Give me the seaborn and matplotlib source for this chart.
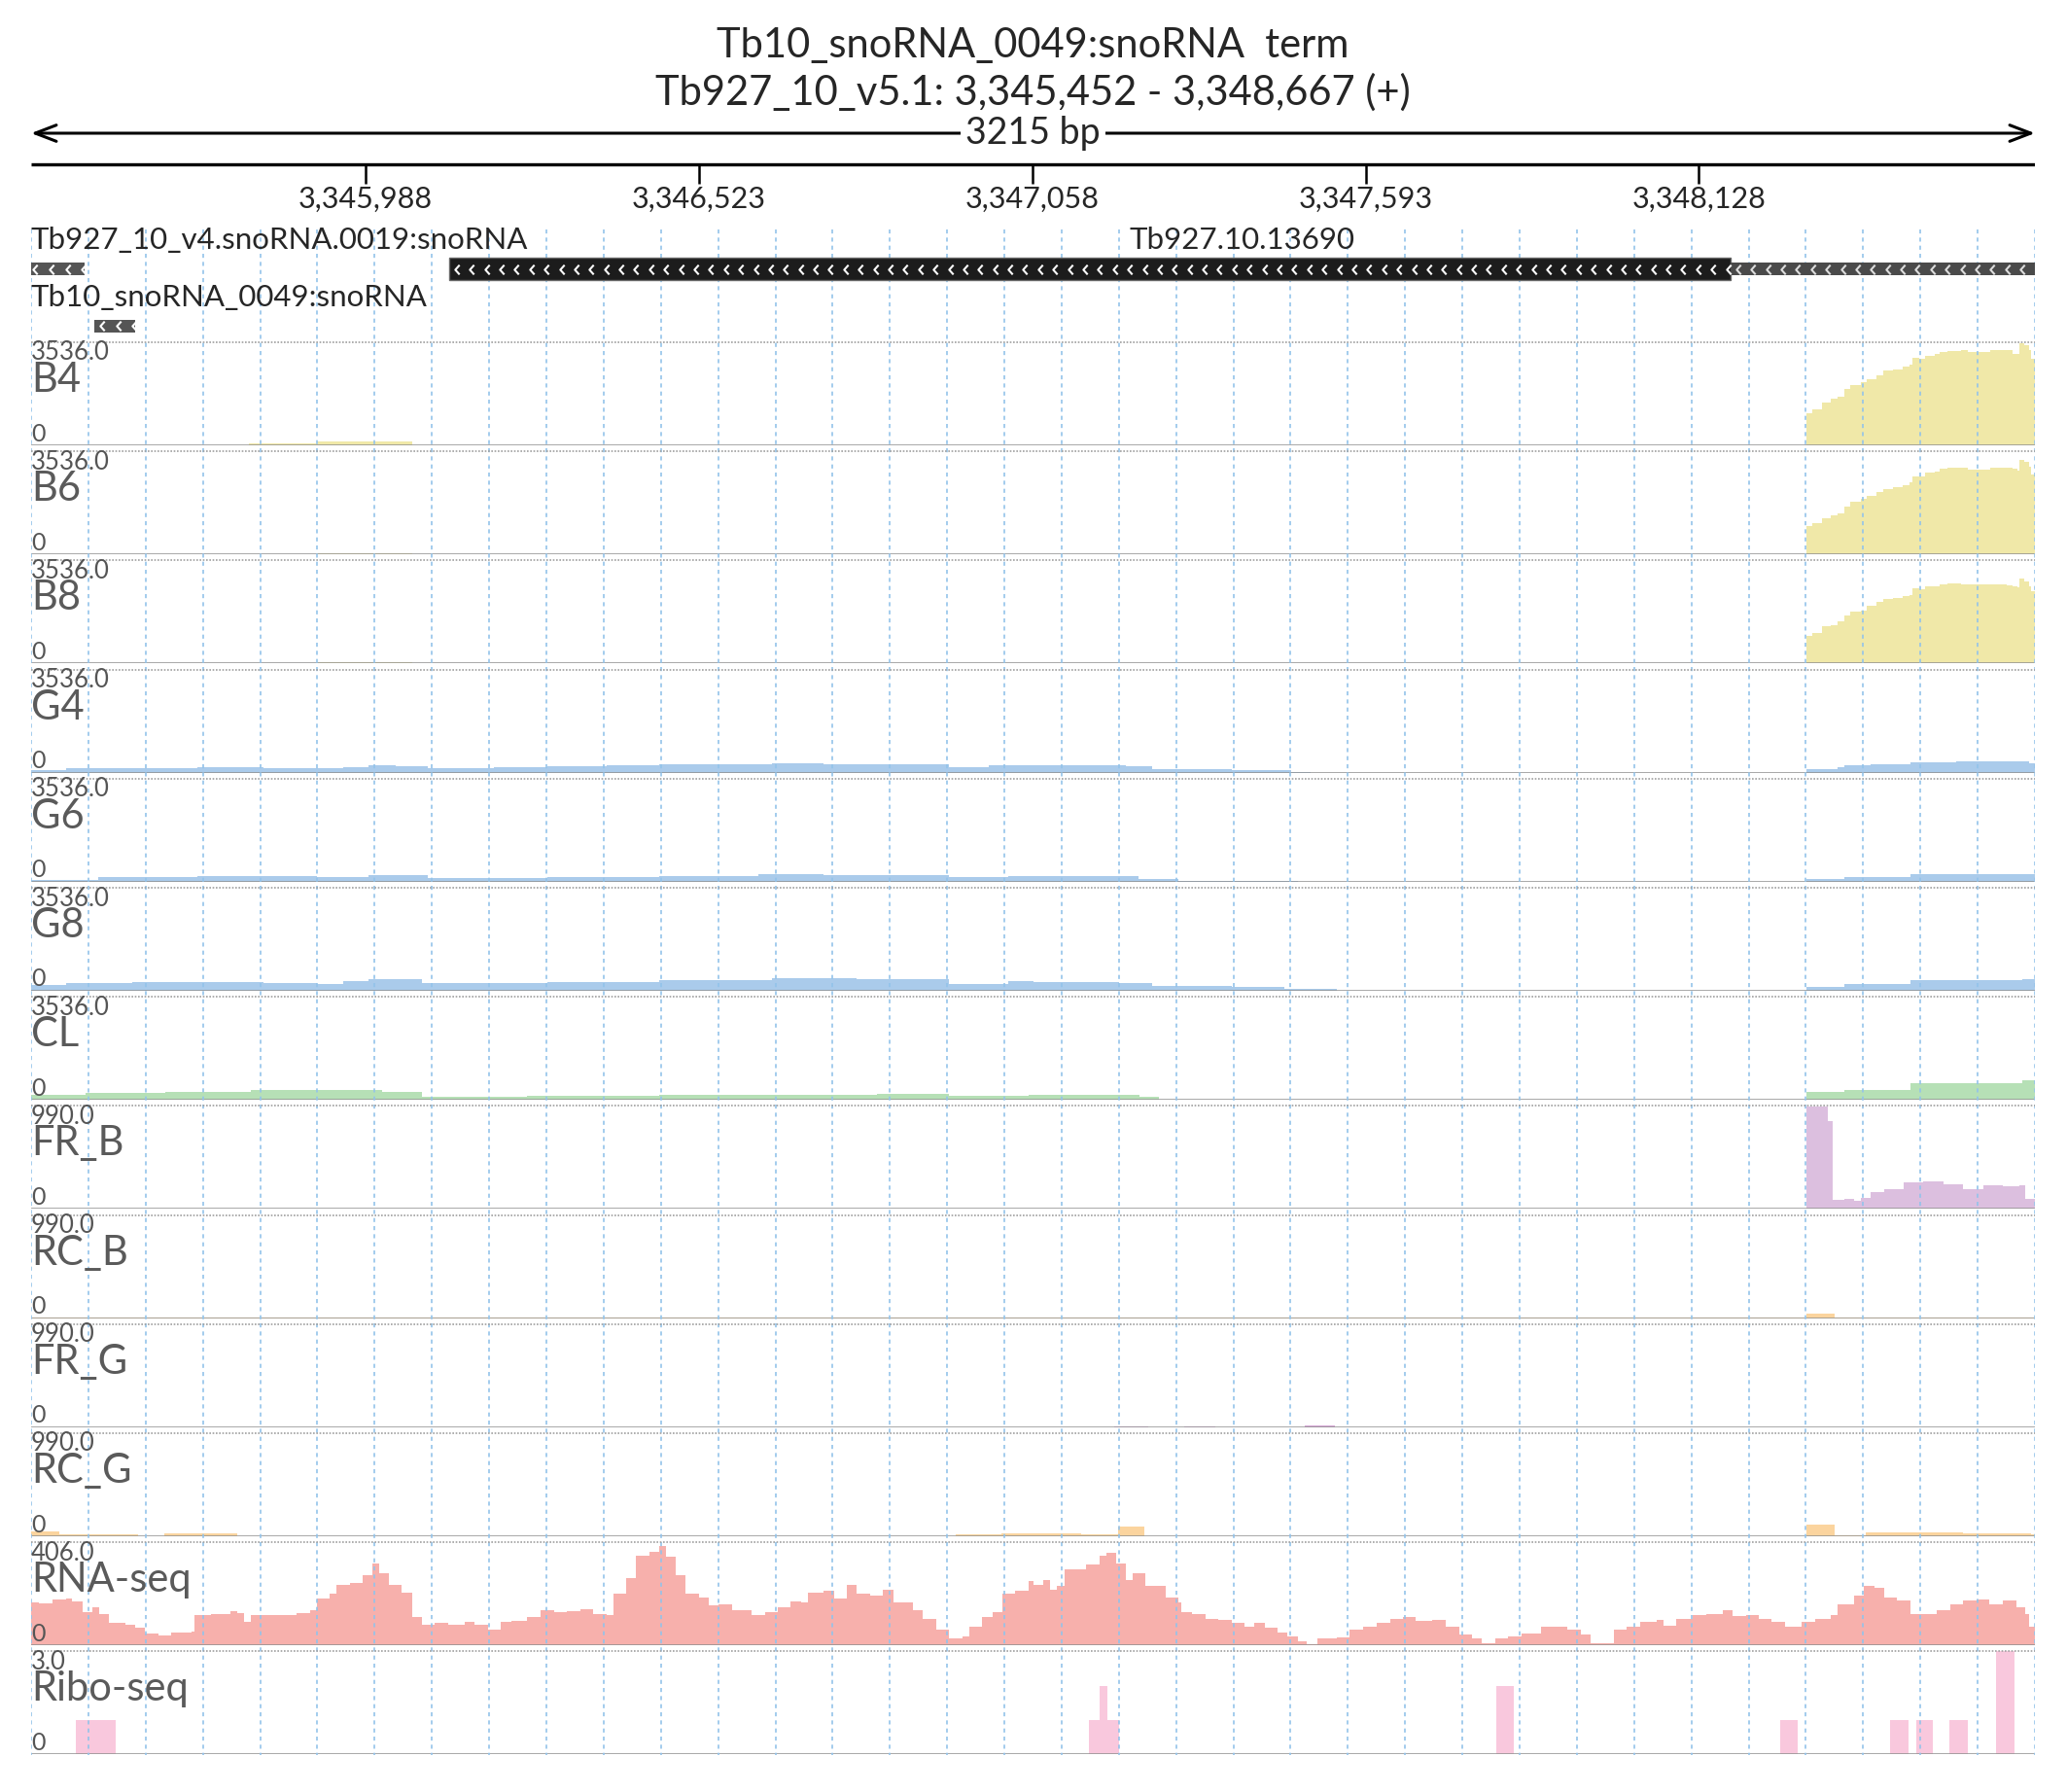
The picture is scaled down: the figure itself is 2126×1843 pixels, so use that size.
import numpy as np
import matplotlib
matplotlib.use("Agg")
import matplotlib.pyplot as plt
from matplotlib.patches import Rectangle
from matplotlib.path import Path
import seaborn as sns

sns.set_theme(style="white")
plt.rcParams['font.family'] = ['Lato', 'DejaVu Sans']

# region shown
CHROM = "Tb927_10_v5.1"
REGION_START = 3345452
REGION_END = 3348667
title_name = "Tb10_snoRNA_0049:snoRNA  term"
ruler_ticks = [3345988, 3346523, 3347058, 3347593, 3348128]

# gene annotation
gene_names = ["Tb927_10_v4.snoRNA.0019:snoRNA", "Tb927.10.13690", "Tb10_snoRNA_0049:snoRNA"]
gene_start = [3345420, 3346123, 3345553]
gene_end = [3345538, 3348900, 3345619]
gene_cds_end = [None, 3348179, None]
gene_row = [0, 0, 1]

# coverage tracks (positions are offsets from REGION_START, values hold until next position)
b_pos = [0, 228, 350, 459, 507, 612, 2846,
         2847, 2848, 2857, 2873, 2888, 2899, 2909, 2919, 2935, 2945,
         2961, 2971, 2987, 3003, 3013, 3018, 3029, 3039, 3055, 3062,
         3075, 3096, 3107, 3143, 3169, 3179, 3187, 3190, 3198, 3205,
         3208, 3215]
b4_val = [10, 15, 70, 130, 120, 10, 0,
          0, 1112, 1223, 1479, 1590, 1668, 1946, 2079, 2168, 2280,
          2391, 2558, 2613, 2702, 2780, 3002, 2969, 3080, 3147, 3191,
          3225, 3258, 3191, 3258, 3258, 3147, 3120, 3503, 3447, 3280,
          2969, 2836]
b6_val = [5, 5, 20, 30, 30, 5, 0,
          0, 967, 1079, 1245, 1357, 1412, 1635, 1824, 1913, 2024,
          2135, 2246, 2302, 2380, 2469, 2691, 2680, 2802, 2858, 2936,
          2969, 2969, 2913, 2969, 2991, 2950, 2891, 3247, 3191, 3025,
          2747, 2635]
b8_val = [5, 10, 30, 50, 45, 5, 0,
          0, 934, 1045, 1268, 1323, 1434, 1657, 1768, 1824, 1968,
          2102, 2213, 2235, 2302, 2346, 2569, 2550, 2635, 2650, 2713,
          2747, 2720, 2700, 2713, 2669, 2635, 2600, 2902, 2825, 2658,
          2491, 2380]

g4_pos = [0, 56, 162, 267, 373, 458, 500, 542, 585, 637,
          743, 828, 923, 1008, 1114, 1188, 1272, 1378, 1473, 1537,
          1600, 1714, 1757, 1799, 1841, 1926, 1979, 2021, 2053, 2846,
          2848, 2899, 2910, 2952, 3015, 3089, 3195, 3206, 3215]
g4_val = [78, 145, 167, 200, 167, 145, 200, 245, 222, 167,
          189, 222, 245, 278, 300, 334, 300, 278, 178, 245,
          256, 245, 211, 133, 111, 100, 78, 22, 0, 0,
          133, 189, 256, 289, 367, 389, 389, 322, 311]
g6_pos = [0, 108, 267, 458, 542, 637, 828, 1008, 1167, 1272,
          1378, 1473, 1568, 1609, 1714, 1777, 1841, 2010, 2032, 2846,
          2848, 2910, 3015, 3195, 3215]
g6_val = [56, 145, 189, 145, 222, 111, 145, 200, 256, 222,
          222, 145, 189, 189, 178, 89, 33, 11, 0, 0,
          89, 167, 245, 256, 222]
g8_pos = [0, 56, 162, 373, 458, 500, 542, 627, 828, 923,
          1008, 1188, 1325, 1473, 1568, 1609, 1746, 1799, 1926, 2010,
          2095, 2846, 2848, 2910, 3015, 3195, 3215]
g8_val = [200, 278, 300, 256, 245, 334, 389, 256, 311, 311,
          367, 445, 389, 245, 334, 311, 278, 167, 133, 78,
          0, 0, 133, 245, 356, 411, 356]
cl_pos = [0, 88, 215, 352, 500, 563, 627, 796, 1008, 1188,
          1357, 1473, 1600, 1609, 1778, 1810, 1820, 2846, 2848, 2910,
          3015, 3195, 3215]
cl_val = [167, 245, 278, 334, 334, 278, 100, 133, 167, 189,
          211, 156, 189, 167, 100, 22, 0, 0, 267, 356,
          578, 689, 600]

frb_pos = [0, 2848, 2872, 2883, 2890, 2909, 2925, 2936, 2952, 2973,
           3005, 3036, 3068, 3100, 3121, 3132, 3163, 3190, 3200]
frb_val = [0, 984, 984, 844, 84, 93, 74, 105, 161, 192,
           254, 261, 239, 186, 186, 230, 217, 230, 93]
rcb_pos = [0, 2848, 2893]
rcb_val = [2, 40, 8]
frg_pos = [0, 1738, 1792, 1850, 1900, 2044, 2092]
frg_val = [2, 9, 2, 5, 2, 19, 2]
rcg_pos = [0, 45, 172, 214, 331, 1484, 1557, 1685, 1744, 1786, 2848, 2894, 2944, 3100, 3208]
rcg_val = [44, 19, 0, 25, 0, 19, 28, 19, 90, 0, 115, 6, 34, 30, 20]

rna_pos = [0, 13, 35, 56, 66, 82, 98, 109, 125, 151,
           167, 183, 204, 225, 257, 262, 288, 320, 331, 341,
           352, 373, 405, 426, 447, 458, 479, 490, 511, 532,
           548, 558, 574, 595, 611, 627, 648, 669, 696, 712,
           733, 754, 770, 796, 817, 839, 860, 881, 902, 923,
           934, 955, 971, 992, 1008, 1018, 1034, 1050, 1071, 1087,
           1103, 1124, 1145, 1156, 1177, 1198, 1219, 1235, 1246, 1272,
           1288, 1309, 1325, 1346, 1367, 1383, 1399, 1415, 1431, 1452,
           1473, 1494, 1505, 1526, 1542, 1558, 1579, 1600, 1609, 1624,
           1635, 1646, 1658, 1677, 1693, 1714, 1725, 1741, 1757, 1767,
           1788, 1804, 1820, 1841, 1846, 1862, 1884, 1905, 1926, 1947,
           1963, 1979, 2000, 2016, 2032, 2047, 2063, 2095, 2116, 2137,
           2159, 2180, 2201, 2222, 2248, 2270, 2291, 2312, 2328, 2349,
           2370, 2391, 2423, 2444, 2465, 2486, 2502, 2523, 2539, 2560,
           2582, 2608, 2619, 2640, 2666, 2687, 2714, 2730, 2751, 2772,
           2793, 2814, 2841, 2862, 2888, 2899, 2925, 2941, 2957, 2973,
           2994, 3015, 3036, 3058, 3079, 3100, 3121, 3142, 3163, 3185,
           3200, 3206]
rna_val = [170, 165, 179, 186, 175, 131, 151, 125, 87, 80,
           68, 46, 38, 51, 55, 119, 125, 134, 128, 93,
           119, 121, 119, 129, 138, 186, 202, 238, 246, 278,
           323, 285, 240, 208, 112, 80, 89, 80, 93, 80,
           61, 93, 97, 112, 138, 131, 134, 144, 125, 119,
           202, 266, 355, 370, 393, 349, 278, 202, 189, 157,
           163, 138, 138, 119, 131, 151, 174, 170, 208, 215,
           183, 240, 202, 195, 221, 170, 170, 138, 106, 61,
           26, 36, 74, 112, 131, 202, 215, 253, 240, 259,
           221, 234, 298, 298, 317, 355, 364, 323, 259, 285,
           234, 234, 189, 170, 131, 125, 106, 100, 87, 74,
           87, 68, 49, 36, 17, 4, 26, 33, 61, 74,
           89, 106, 110, 97, 102, 74, 42, 29, 10, 26,
           36, 46, 74, 74, 61, 42, 10, 10, 61, 74,
           93, 102, 77, 106, 119, 125, 138, 115, 119, 106,
           93, 74, 93, 106, 119, 163, 195, 234, 227, 189,
           176, 125, 125, 138, 163, 176, 179, 161, 176, 151,
           125, 74]

ribo_start = [72, 1697, 1714, 2351, 2807, 2983, 3025, 3078, 3153]
ribo_end = [136, 1746, 1727, 2379, 2835, 3012, 3051, 3108, 3183]
ribo_val = [1, 1, 2, 2, 1, 1, 1, 1, 3]

track_names = ["B4", "B6", "B8", "G4", "G6", "G8", "CL", "FR_B", "RC_B", "FR_G", "RC_G", "RNA-seq", "Ribo-seq"]
track_max = [3536.0] * 7 + [990.0] * 4 + [406.0, 3.0]
track_colors = ["#f0e8a8", "#f0e8a8", "#f0e8a8", "#aacbeb", "#aacbeb", "#aacbeb", "#b6e0b6",
                "#dcbfdf", "#fbd49e", "#d6a9d6", "#fbd49e", "#f7b0ac", "#f9c8dd"]
track_data = {
    "B4": (b_pos, b4_val), "B6": (b_pos, b6_val), "B8": (b_pos, b8_val),
    "G4": (g4_pos, g4_val), "G6": (g6_pos, g6_val), "G8": (g8_pos, g8_val),
    "CL": (cl_pos, cl_val), "FR_B": (frb_pos, frb_val), "RC_B": (rcb_pos, rcb_val),
    "FR_G": (frg_pos, frg_val), "RC_G": (rcg_pos, rcg_val), "RNA-seq": (rna_pos, rna_val),
}

# ---- layout (pixels)
W, H = 2126, 1843
LEFT, RIGHT = 32, 2093
TRACK_TOP, TRACK_STEP, TRACK_H = 352, 112.2, 106

fig = plt.figure(figsize=(W / 100, H / 100), dpi=100)


def px_rect(x0, y0, w, h):
    return [x0 / W, 1 - (y0 + h) / H, w / W, h / H]


ax0 = fig.add_axes(px_rect(LEFT, 0, RIGHT - LEFT, H))
ax0.set_xlim(REGION_START, REGION_END)
ax0.set_ylim(H, 0)
ax0.axis('off')
ax0.set_zorder(10)
mid = (REGION_START + REGION_END) / 2

# header
ax0.text(mid, 47, title_name, ha='center', va='center', fontsize=30)
ax0.text(mid, 95, f"{CHROM}: {REGION_START:,} - {REGION_END:,} (+)", ha='center', va='center', fontsize=30)
ax0.annotate('', xy=(REGION_START, 137), xytext=(REGION_END, 137),
             arrowprops=dict(arrowstyle='<->,head_length=1.3,head_width=0.5', lw=2.2,
                             color='black', shrinkA=0, shrinkB=0, mutation_scale=12))
ax0.text(mid, 137, f"{REGION_END - REGION_START} bp", ha='center', va='center', fontsize=27,
         bbox=dict(fc='white', ec='none', pad=4))
ax0.plot([REGION_START, REGION_END], [169, 169], color='black', lw=2.4, solid_capstyle='butt')
ax0.vlines(ruler_ticks, 169, 189, color='black', lw=1.8)
for t in ruler_ticks:
    ax0.text(t, 205, f"{t:,}", ha='center', va='center', fontsize=22)

# grid
grid_pos = np.linspace(REGION_START, REGION_END, 36)
ax0.vlines(grid_pos, 236, 1805, colors='#93c3ea', linestyles=(0, (2.5, 2.5)), lw=1.2)

# genes
CHEVRON = Path([(0.45, 1.0), (-0.45, 0.0), (0.45, -1.0)], [Path.MOVETO, Path.LINETO, Path.LINETO])
row_y = [276.5, 335]


def chevrons(x0, x1, yc, step, color):
    xs = np.arange(x0 + step / 2, x1, step)
    xs = xs[(xs > REGION_START + 5) & (xs < REGION_END - 5)]
    ax0.plot(xs, np.full(len(xs), yc), ls='none', marker=CHEVRON, ms=7,
             mec=color, mfc='none', mew=1.5, zorder=5)


renderer = fig.canvas.get_renderer()
for name, s, e, ce, r in zip(gene_names, gene_start, gene_end, gene_cds_end, gene_row):
    yc = row_y[r]
    if ce is None:
        ax0.add_patch(Rectangle((s, yc - 6.5), e - s, 13, fc='#555555', ec='none', zorder=4))
        chevrons(s, e, yc, 26, 'white')
    else:
        ax0.add_patch(Rectangle((s, yc - 11.5), ce - s, 23, fc='#1c1c1c', ec='#666666', lw=1, zorder=4))
        ax0.add_patch(Rectangle((ce, yc - 6.5), e - ce, 13, fc='#4a4a4a', ec='none', zorder=4))
        chevrons(s, ce, yc, 24, 'white')
        chevrons(ce, e, yc, 24, '#dddddd')
    vis_mid = (max(s, REGION_START) + min(e, REGION_END)) / 2
    t = ax0.text(vis_mid, yc - 29, name, ha='center', va='center', fontsize=22.5)
    if t.get_window_extent(renderer).x0 < ax0.get_window_extent(renderer).x0:
        t.set_x(REGION_START)
        t.set_ha('left')

# tracks
for i, (name, vmax, col) in enumerate(zip(track_names, track_max, track_colors)):
    y0 = TRACK_TOP + i * TRACK_STEP
    ax = fig.add_axes(px_rect(LEFT, y0, RIGHT - LEFT, TRACK_H))
    ax.set_xlim(REGION_START, REGION_END)
    ax.set_ylim(0, vmax)
    ax.axis('off')
    if name in track_data:
        pos, val = track_data[name]
        x = REGION_START + np.append(pos, REGION_END - REGION_START)
        v = np.append(val, val[-1])
        ax.fill_between(x, 0, v, step='post', color=col, lw=0)
    else:
        for s, e, v in zip(ribo_start, ribo_end, ribo_val):
            ax.bar(REGION_START + s, v, width=e - s, align='edge', color=col, lw=0)
    ax.axhline(0, color='#8f8f8f', lw=1.8)
    ax0.plot([REGION_START, REGION_END], [y0, y0], color='#a0a0a0', ls=(0, (1, 1)), lw=1.2)
    ax0.text(REGION_START, y0 + 11, f"{vmax:.1f}", ha='left', va='center', fontsize=18.5, color='#555555')
    ax0.text(REGION_START, y0 + 39, name, ha='left', va='center', fontsize=30, color='#5a5a5a')
    ax0.text(REGION_START, y0 + 94, "0", ha='left', va='center', fontsize=18, color='#555555')

fig.savefig("out.png", dpi=100)
